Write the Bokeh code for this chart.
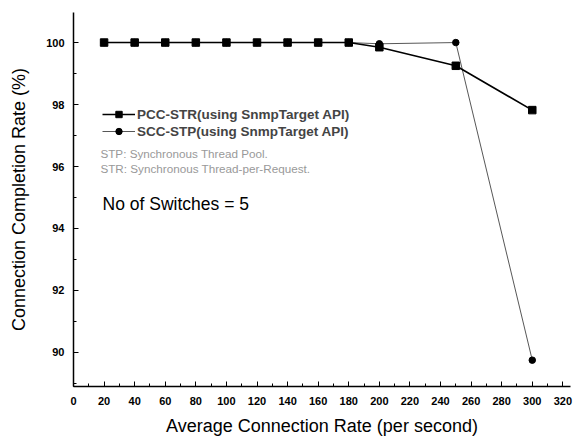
from bokeh.plotting import figure
from bokeh.models import SingleIntervalTicker, Range1d, Legend, LegendItem, Label, ColumnDataSource
from bokeh.embed import file_html
from bokeh.resources import INLINE

rates = [20, 40, 60, 80, 100, 120, 140, 160, 180, 200, 250, 300]
pcc_str = [100, 100, 100, 100, 100, 100, 100, 100, 100, 99.85, 99.25, 97.82]
scc_stp = [100, 100, 100, 100, 100, 100, 100, 100, 100, 99.96, 100.0, 89.75]
series_names = ["PCC-STR(using SnmpTarget API)", "SCC-STP(using SnmpTarget API)"]
notes = ["STP: Synchronous Thread Pool.", "STR: Synchronous Thread-per-Request."]
switch_note = "No of Switches = 5"

FONT = "Liberation Sans"

p = figure(width=583, height=438, output_backend="svg", toolbar_location=None,
           x_range=Range1d(0, 325), y_range=Range1d(88.9, 100.97),
           min_border_left=73, min_border_top=12, min_border_right=13, min_border_bottom=52)
p.outline_line_color = None
p.grid.visible = False

src = ColumnDataSource(dict(x=rates, pcc=pcc_str, scc=scc_stp))

l2 = p.line("x", "scc", source=src, line_color="#444444", line_width=0.9)
m2 = p.scatter("x", "scc", source=src, marker="circle", size=6.5, fill_color="black", line_color="black")
l1 = p.line("x", "pcc", source=src, line_color="black", line_width=1.6)
m1 = p.scatter("x", "pcc", source=src, marker="square", size=7.5, fill_color="black", line_color="black")

legend = Legend(items=[LegendItem(label=series_names[0], renderers=[l1, m1]),
                       LegendItem(label=series_names[1], renderers=[l2, m2])],
                location=(29, 247), background_fill_alpha=0, border_line_color=None,
                glyph_width=33, glyph_height=16, label_height=16, label_standoff=2,
                spacing=1, padding=0, margin=0,
                label_text_font=FONT, label_text_font_size="13.5px", label_text_font_style="bold")
p.add_layout(legend, "center")

p.add_layout(Label(x=17.6, y=96.42, text=notes[0], text_font=FONT, text_font_size="11.7px",
                   text_color="#999999", text_baseline="middle"))
p.add_layout(Label(x=17.6, y=95.93, text=notes[1], text_font=FONT, text_font_size="11.7px",
                   text_color="#999999", text_baseline="middle"))
p.add_layout(Label(x=19, y=94.8, text=switch_note, text_font=FONT, text_font_size="17.5px",
                   text_color="black", text_baseline="middle"))

p.xaxis.ticker = SingleIntervalTicker(interval=20, num_minor_ticks=2)
p.yaxis.ticker = SingleIntervalTicker(interval=2, num_minor_ticks=2)
for ax in (p.xaxis[0], p.yaxis[0]):
    ax.major_tick_in = 5
    ax.major_tick_out = 0
    ax.minor_tick_in = 3
    ax.minor_tick_out = 0
    ax.axis_line_width = 1.5
    ax.axis_line_color = "black"
    ax.major_tick_line_color = "black"
    ax.minor_tick_line_color = "black"
    ax.major_label_text_font = FONT
    ax.major_label_text_font_size = "11px"
    ax.major_label_text_font_style = "bold"
    ax.major_label_text_color = "black"
    ax.axis_label_text_font = FONT
    ax.axis_label_text_font_size = "18px"
    ax.axis_label_text_font_style = "normal"
    ax.axis_label_text_color = "black"

p.xaxis.axis_label = "Average Connection Rate (per second)"
p.yaxis.axis_label = "Connection Completion Rate (%)"
p.xaxis.major_label_standoff = 10
p.yaxis.major_label_standoff = 9
p.xaxis.axis_label_standoff = 8
p.yaxis.axis_label_standoff = 14

open("out.html", "w").write(file_html(p, INLINE))
